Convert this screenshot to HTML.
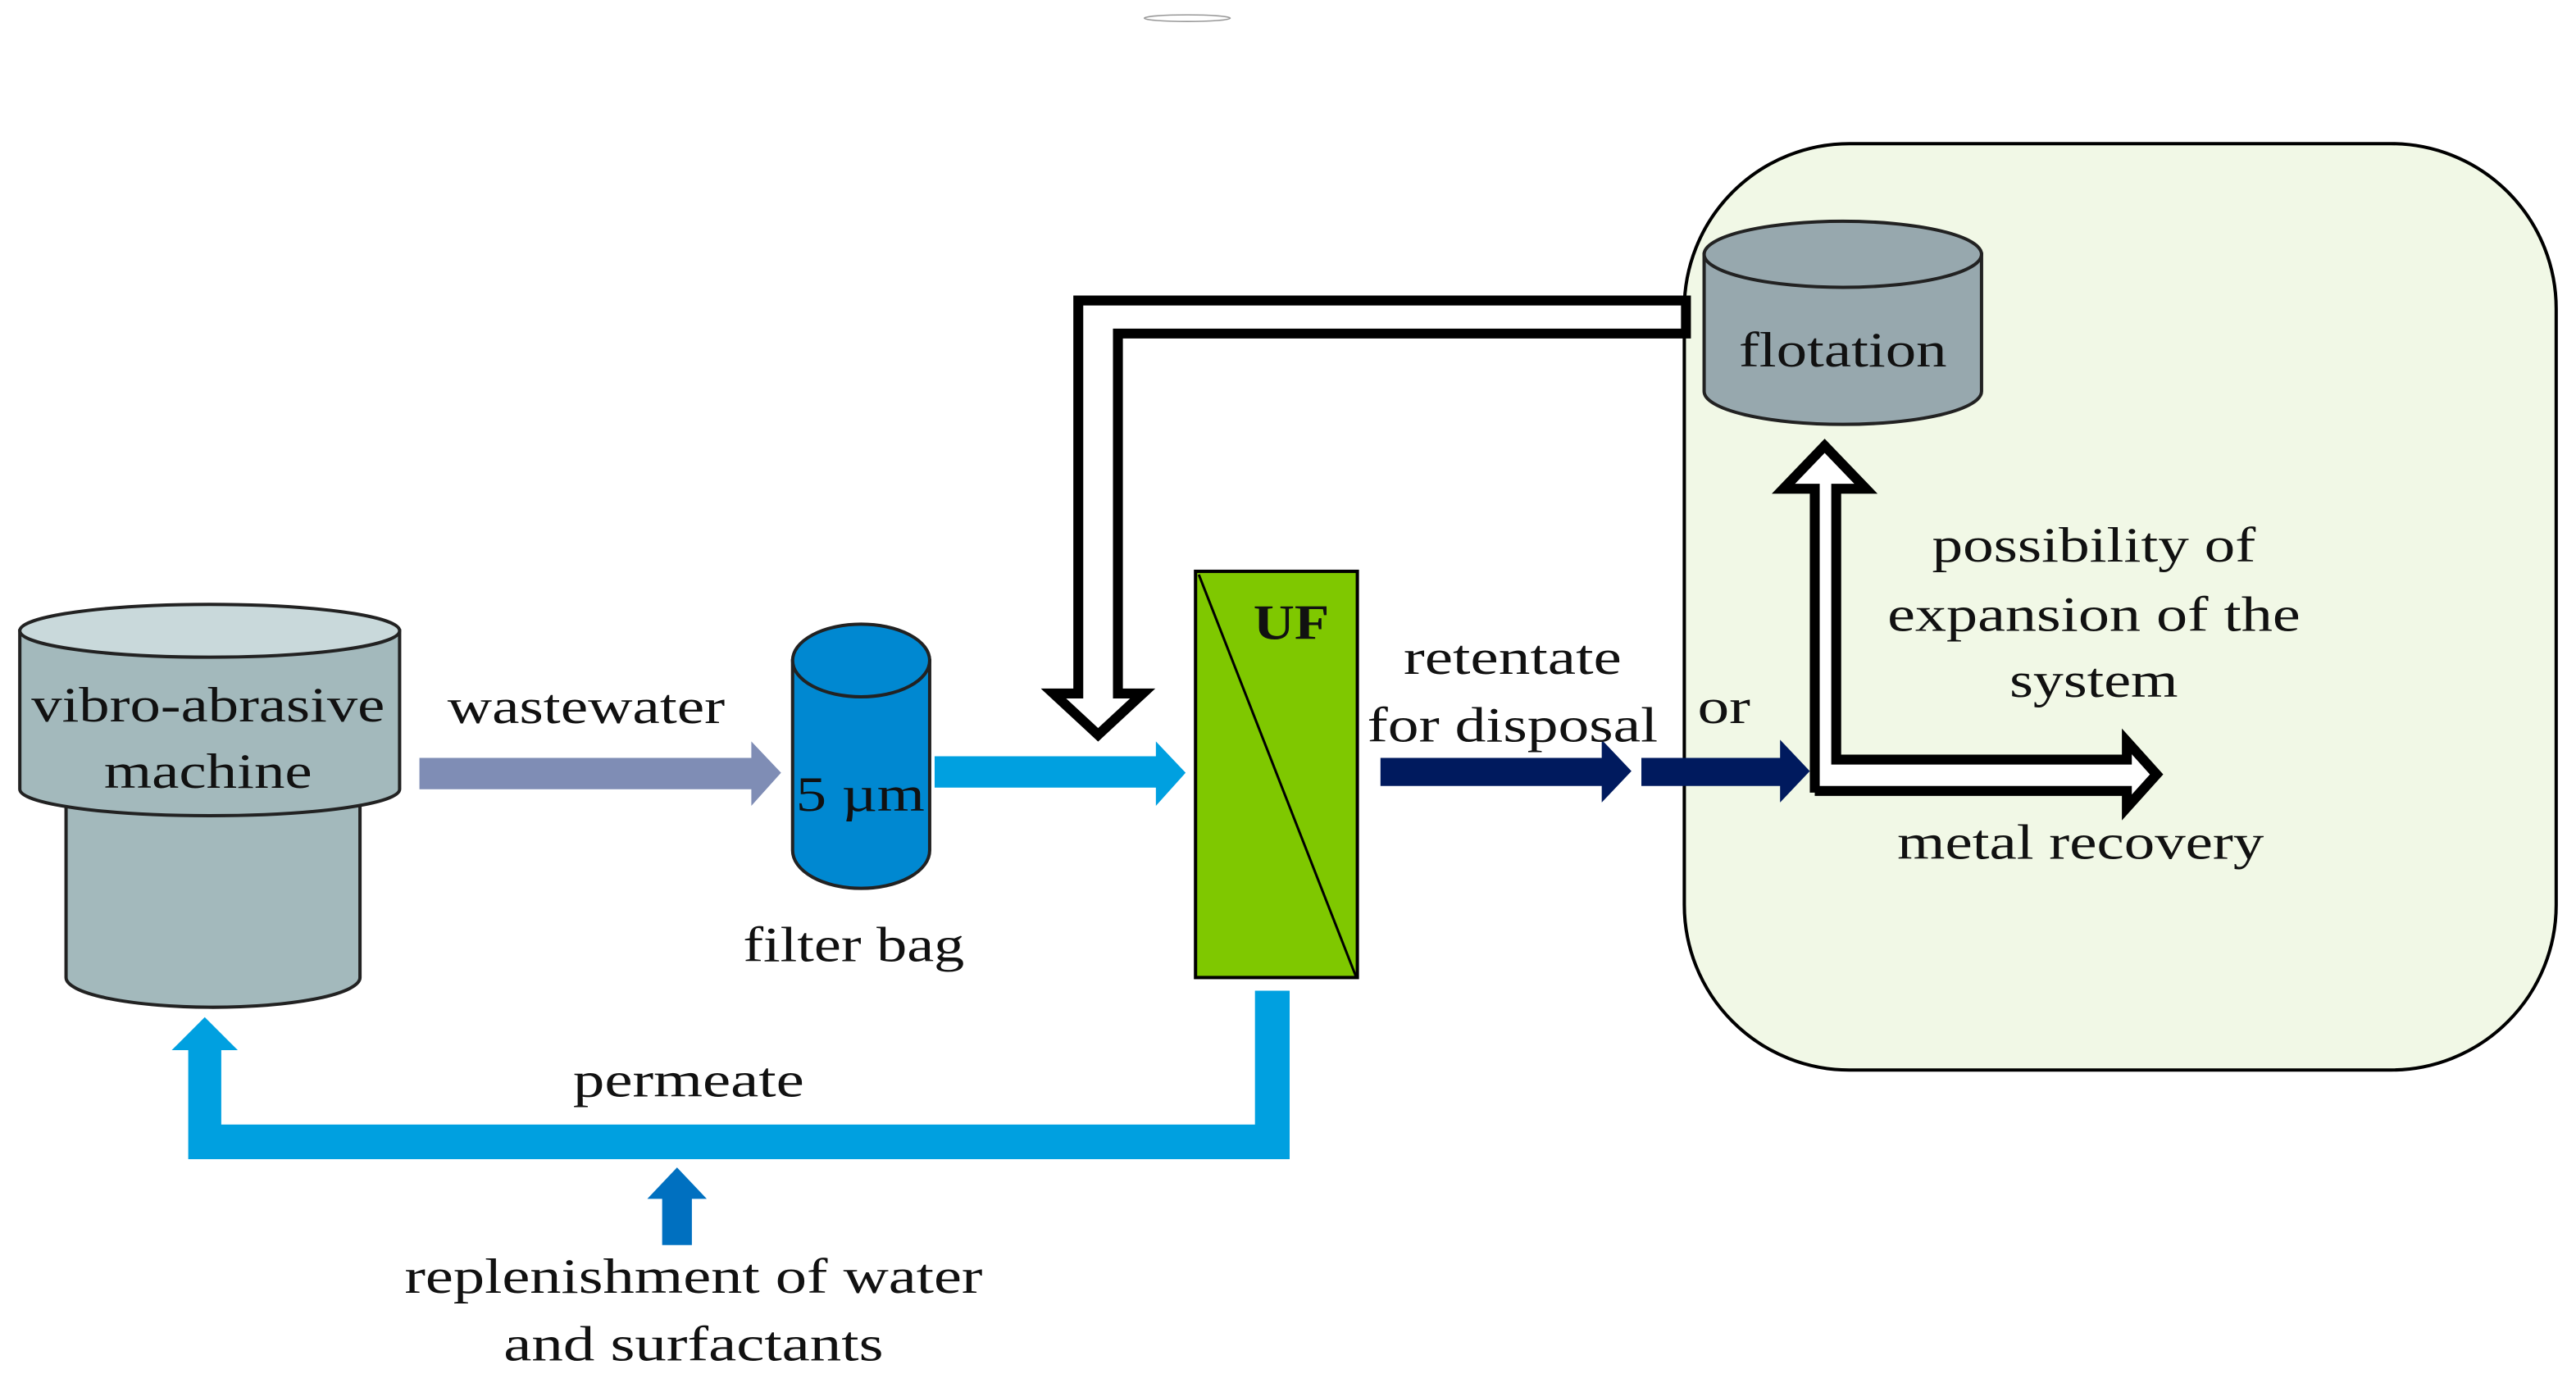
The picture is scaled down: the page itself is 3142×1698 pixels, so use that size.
<!DOCTYPE html>
<html><head><meta charset="utf-8"><style>html,body{margin:0;padding:0;background:#fff}svg{display:block}text{font-family:"Liberation Serif",serif;font-size:30px;fill:#111}</style></head>
<body>
<svg width="3142" height="1698" viewBox="0 0 1560 843" preserveAspectRatio="none" xmlns="http://www.w3.org/2000/svg">
<rect width="1560" height="843" fill="#fff"/>
<!-- expansion box -->
<rect x="1020" y="87" width="528" height="561" rx="100" ry="100" fill="#f1f8e6" stroke="#000" stroke-width="2"/>
<!-- machine -->
<path d="M40 480 V592 A89 18 0 0 0 218 592 V480 Z" fill="#a3b9bc" stroke="#222" stroke-width="2"/>
<path d="M12 382 V478 A115 16 0 0 0 242 478 V382 Z" fill="#a3b9bc" stroke="#222" stroke-width="2"/>
<ellipse cx="127" cy="382" rx="115" ry="16" fill="#c9d9db" stroke="#222" stroke-width="2"/>
<text x="126" y="437" text-anchor="middle" textLength="214" lengthAdjust="spacingAndGlyphs">vibro-abrasive</text>
<text x="126" y="477" text-anchor="middle" textLength="126" lengthAdjust="spacingAndGlyphs">machine</text>
<!-- wastewater arrow -->
<polygon points="254,459 455,459 455,449 473,468 455,488 455,478 254,478" fill="#7f8db5"/>
<text x="355" y="438" text-anchor="middle" textLength="168" lengthAdjust="spacingAndGlyphs">wastewater</text>
<!-- filter bag -->
<path d="M480 400 V515 A41.5 23 0 0 0 563 515 V400 Z" fill="#0088d1" stroke="#222" stroke-width="2"/>
<ellipse cx="521.5" cy="400" rx="41.5" ry="22" fill="#0088d1" stroke="#222" stroke-width="2"/>
<text x="521" y="491" text-anchor="middle" textLength="78" lengthAdjust="spacingAndGlyphs">5 µm</text>
<text x="517" y="582" text-anchor="middle" textLength="134" lengthAdjust="spacingAndGlyphs">filter bag</text>
<!-- light blue arrow -->
<polygon points="566,458 700,458 700,449 718,468 700,488 700,477 566,477" fill="#00a0e0"/>
<!-- UF -->
<rect x="724" y="346" width="98" height="246" fill="#7fc800" stroke="#000" stroke-width="2"/>
<line x1="726" y1="348" x2="821" y2="591" stroke="#000" stroke-width="1.5"/>
<text x="782" y="387" text-anchor="middle" font-weight="bold" textLength="46" lengthAdjust="spacingAndGlyphs">UF</text>
<!-- hollow recycle arrow from flotation -->
<polygon points="1021,182 653,182 653,420 638,420 665,445 692,420 677,420 677,202 1021,202" fill="#fff" stroke="#000" stroke-width="6" stroke-linejoin="miter"/>
<!-- retentate arrows -->
<polygon points="836,459 970,459 970,448 988,467 970,486 970,476 836,476" fill="#001a5e"/>
<polygon points="994,459 1078,459 1078,448 1096,467 1078,486 1078,476 994,476" fill="#001a5e"/>
<text x="916" y="408" text-anchor="middle" textLength="132" lengthAdjust="spacingAndGlyphs">retentate</text>
<text x="916" y="449" text-anchor="middle" textLength="176" lengthAdjust="spacingAndGlyphs">for disposal</text>
<text x="1044" y="438" text-anchor="middle" textLength="32" lengthAdjust="spacingAndGlyphs">or</text>
<!-- flotation -->
<path d="M1032 154 V237 A84 20 0 0 0 1200 237 V154 Z" fill="#97a8ae" stroke="#222" stroke-width="2"/>
<ellipse cx="1116" cy="154" rx="84" ry="20" fill="#97a8ae" stroke="#222" stroke-width="2"/>
<text x="1116" y="222" text-anchor="middle" textLength="126" lengthAdjust="spacingAndGlyphs">flotation</text>
<!-- hollow L arrow -->
<polygon points="1099,480 1099,296 1080,296 1105,270 1130,296 1112,296 1112,460 1288,460 1288,449 1306,469 1288,489 1288,479 1099,479" fill="#fff" stroke="#000" stroke-width="6"/>
<text x="1268" y="340" text-anchor="middle" textLength="196" lengthAdjust="spacingAndGlyphs">possibility of</text>
<text x="1268" y="382" text-anchor="middle" textLength="250" lengthAdjust="spacingAndGlyphs">expansion of the</text>
<text x="1268" y="422" text-anchor="middle" textLength="102" lengthAdjust="spacingAndGlyphs">system</text>
<text x="1260" y="520" text-anchor="middle" textLength="222" lengthAdjust="spacingAndGlyphs">metal recovery</text>
<!-- permeate -->
<polygon points="760,600 781,600 781,702 114,702 114,636 104,636 124,616 144,636 134,636 134,681 760,681" fill="#00a0e0"/>
<text x="417" y="664" text-anchor="middle" textLength="140" lengthAdjust="spacingAndGlyphs">permeate</text>
<!-- replenishment -->
<polygon points="401,754 419,754 419,726 428,726 410,707 392,726 401,726" fill="#0070c0"/>
<text x="420" y="783" text-anchor="middle" textLength="350" lengthAdjust="spacingAndGlyphs">replenishment of water</text>
<text x="420" y="824" text-anchor="middle" textLength="230" lengthAdjust="spacingAndGlyphs">and surfactants</text>
<ellipse cx="719" cy="11" rx="26" ry="2" fill="none" stroke="#999" stroke-width="0.8"/>
</svg>
</body></html>
